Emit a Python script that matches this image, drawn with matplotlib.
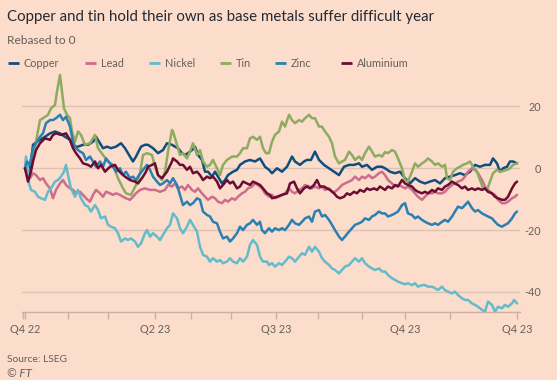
import matplotlib
matplotlib.use("Agg")
import matplotlib.pyplot as plt
from matplotlib.lines import Line2D

# ---------------- data (x = trading-day index from start, y = % change rebased to 0)
tin_x = [0,5,10,15,18,23,26,30,32,35,37,39,42,45,47,50,53,56,60,65,70,73,78,83,88,93,98,101,106,111,
         115,118,122,127,130,133,137,140,143,147,148,152,155,158,162,165,168,172,175,178,182,185,188,192,195,198,202,207,212,215,218,222,225,228,232,235,
         238,241,244,247,250,254,257,260,264,267,270,274,277,280,284,287,290,294,297,300,304,307,310,314,317,320,324,327,330,334,337,340,344,347,350,354,357,
         360,363,367,370,373,377,380,383,387,390,393,397,400,403,407,410,413,417,420,422,425,428,432,435,438,442,445,448,452,455,458,462,465,468,472,475,478,482,485,488,492]
tin_y = [0,2.0,7.0,15.6,16.2,17.3,19.4,20.5,24.8,30.2,24.8,19.4,17.3,16.2,11.9,8.6,11.9,10.8,7.6,8.1,10.8,6.5,4.3,2.2,1.1,-3.2,-6.5,-8.1,-8.6,-5.4,
         -1.6,4.3,4.9,4.3,0.5,-2.2,-3.8,-1.1,5.4,12.4,11.9,7.6,4.3,4.9,3.2,5.4,8.1,4.3,5.9,2.2,0.5,1.1,2.7,0,-2.2,1.1,2.7,3.8,3.8,4.9,6.5,6.5,9.7,10.2,9.2,10.2,
         6.5,4.9,4.9,8.6,10.8,11.9,15.1,13.5,17.3,15.6,14.6,15.6,15.1,16.2,17.3,16.2,16.2,13.5,13.5,11.9,10.2,8.1,3.8,1.6,2.2,2.7,5.4,4.3,2.7,3.8,2.7,4.9,7.0,5.4,3.8,4.3,3.8,
         5.2,4.9,5.9,5.4,3.2,0,-3.8,-4.3,-1.1,1.6,0.5,1.6,2.2,3.2,2.2,1.1,1.6,0.5,1.1,-3.2,-3.8,-1.1,0,0.5,1.1,1.6,2.2,0.5,-1.1,-3.8,-6.5,-7.0,-4.3,-1.6,-0.5,-1.1,-0.9,-0.5,0,1.1,1.6]

copper_x = [0,3,6,8,12,15,20,25,30,35,40,45,48,53,58,63,68,71,75,78,82,86,91,96,100,105,108,111,
            116,120,123,128,133,138,142,147,150,153,157,160,163,167,170,173,177,180,183,187,190,193,197,200,203,208,212,215,220,225,230,235,
            240,244,247,252,257,262,267,270,275,279,282,286,290,294,299,304,309,314,319,324,329,334,337,342,347,352,357,
            360,365,370,375,380,385,390,395,400,405,410,415,420,425,430,435,440,445,450,455,460,465,468,472,475,478,482,485,488,492]
copper_y = [0,-2.2,2.0,7.6,8.6,9.2,10.2,11.3,11.9,11.3,10.2,9.2,7.0,7.0,7.6,7.6,8.6,10.2,8.1,6.5,7.0,6.5,7.0,8.1,6.5,3.8,2.2,3.8,
            7.0,7.6,7.6,6.5,4.9,5.9,8.1,7.6,7.0,6.5,4.9,4.3,4.9,5.9,7.0,4.3,2.7,-1.1,-1.1,-2.7,-1.1,-2.7,-4.9,-3.8,-2.2,-1.1,-0.5,1.1,2.2,2.7,2.2,3.2,
            0.5,-0.5,-1.6,0,-1.1,0.5,3.8,2.2,1.1,2.2,2.7,2.7,5.4,2.7,1.1,0,-1.1,-2.2,0.5,1.1,1.1,1.6,0.5,1.1,-0.5,0.5,0.5,
            0,-1.1,-1.6,-1.1,-3.2,-4.9,-3.2,-4.3,-4.9,-4.3,-3.8,-4.9,-3.2,-2.7,-2.2,-1.6,-2.2,-1.1,1.1,0.5,1.1,1.1,3.2,1.6,-1.1,0,0.5,2.2,2.2,1.6]

alu_x = [0,3,6,8,11,15,20,25,28,31,36,41,45,48,51,55,58,63,66,70,73,76,80,85,90,93,96,100,105,110,113,
         118,121,123,127,130,133,137,142,147,148,152,155,158,162,165,168,172,175,178,182,185,188,192,195,198,202,205,208,212,215,218,222,225,228,232,235,
         238,242,245,247,252,257,262,265,269,272,275,279,282,285,289,292,295,299,302,305,309,312,315,319,322,325,329,332,335,339,342,345,349,352,355,
         360,363,367,370,373,377,380,383,387,390,393,397,400,403,407,410,413,417,420,423,427,430,433,437,440,443,447,450,453,457,460,463,467,470,473,477,480,483,487,490,492]
alu_y = [0,-4.3,-1.0,2.2,5.9,8.1,9.7,9.2,10.8,11.3,10.8,11.3,9.2,6.5,4.9,3.2,1.6,1.1,0.5,2.2,0,1.1,-1.1,0.5,1.1,-0.5,-1.6,-2.7,-3.8,-4.3,-4.9,
         -2.7,-1.1,0.5,1.1,1.6,-2.2,-3.2,-1.1,2.2,3.2,2.2,1.1,1.1,-0.5,0.5,-1.6,-1.1,-2.2,-3.8,-2.7,-3.2,-2.7,-4.3,-6.5,-5.4,-3.8,-4.9,-4.3,-6.5,-5.9,-4.3,-4.9,-5.4,-4.3,-4.9,-5.4,
         -6.5,-8.1,-8.6,-9.7,-9.2,-8.6,-8.1,-4.9,-4.3,-6.5,-8.1,-6.5,-5.9,-6.5,-5.4,-3.8,-5.9,-5.9,-6.5,-7.0,-8.1,-9.2,-9.7,-9.2,-8.1,-8.6,-7.6,-8.1,-7.0,-7.6,-6.5,-7.0,-6.5,-7.0,-5.9,
         -7.0,-5.9,-6.5,-5.4,-5.9,-3.8,-4.9,-5.4,-5.9,-7.0,-7.6,-8.1,-7.6,-8.1,-7.0,-7.6,-6.5,-7.0,-5.9,-5.4,-4.3,-4.9,-5.4,-6.5,-5.9,-7.0,-6.5,-7.0,-6.5,-7.0,-6.5,-7.6,-8.1,-9.2,-9.7,-10.2,-10.2,-9.2,-6.5,-4.9,-4.3]

lead_x = [0,1,5,8,11,15,18,21,25,28,31,35,38,41,45,48,51,55,58,61,65,68,71,75,78,81,85,88,91,95,98,101,105,108,111,
          115,120,125,130,135,140,143,147,150,153,157,160,163,167,170,173,177,180,183,187,190,193,197,200,203,207,210,213,217,220,223,227,230,233,
          237,240,244,247,250,254,257,260,264,267,270,274,277,280,284,287,290,294,297,300,304,307,310,314,317,320,324,327,330,334,337,340,344,347,350,354,357,
          360,363,367,370,373,377,380,383,387,390,393,397,400,403,407,410,413,417,420,423,427,430,433,437,440,443,447,450,453,457,460,463,467,470,473,477,480,483,487,490,492]
lead_y = [0,0,-3.2,-1.6,-2.2,-3.8,-3.2,-4.9,-6.5,-9.7,-7.0,-4.9,-3.8,-5.4,-6.5,-7.0,-8.1,-7.6,-8.6,-9.7,-10.8,-8.6,-7.0,-8.1,-9.2,-7.6,-8.1,-8.6,-8.1,-8.6,-9.2,-9.7,-10.2,-9.2,-8.1,
          -7.0,-6.5,-7.0,-7.0,-7.6,-7.0,-5.4,-5.9,-4.9,-6.5,-5.9,-7.0,-5.4,-7.0,-7.6,-6.5,-8.1,-9.2,-10.2,-9.2,-9.7,-10.8,-11.3,-10.2,-10.8,-9.7,-10.2,-9.2,-8.1,-7.6,-6.5,-5.9,-4.9,-5.4,
          -6.5,-8.1,-9.2,-8.6,-9.7,-9.2,-8.6,-8.1,-6.5,-7.6,-8.1,-7.0,-6.5,-5.4,-5.9,-6.5,-5.9,-6.5,-5.9,-7.0,-6.5,-7.6,-7.6,-6.5,-5.4,-4.9,-4.3,-3.8,-2.7,-3.8,-2.7,-3.2,-2.2,-3.2,-2.7,-1.6,-1.1,
          -2.2,-3.8,-4.9,-5.9,-5.4,-5.9,-6.5,-5.9,-7.0,-8.1,-9.2,-10.2,-9.2,-8.1,-8.1,-7.6,-8.1,-8.1,-7.6,-6.5,-5.4,-4.9,-4.3,-3.8,-2.7,-1.1,0,-0.5,-1.6,-3.8,-5.9,-7.0,-8.1,-8.6,-10.2,-11.3,-11.3,-10.8,-9.7,-9.2,-8.6]

zinc_x = [0,2,5,8,11,15,18,21,25,28,31,35,38,41,45,48,51,55,58,61,65,68,71,75,78,81,85,88,91,95,98,101,105,108,111,114,
          118,122,125,128,132,135,138,142,145,148,152,155,158,162,165,168,172,175,178,182,185,188,192,195,198,202,205,208,212,215,218,222,225,228,232,235,
          237,240,244,247,250,254,257,260,264,267,270,274,277,280,284,287,290,294,297,300,304,307,310,314,317,320,324,327,330,334,337,340,344,347,350,354,357,
          360,363,367,370,373,377,380,383,387,390,393,397,400,403,407,410,413,417,420,423,427,430,433,437,440,443,447,450,453,457,460,463,467,470,473,477,480,483,487,490,492]
zinc_y = [0,2.2,1.1,6.5,8.1,10.2,11.3,14.6,15.6,15.6,16.2,17.3,15.6,16.7,13.5,8.6,6.5,5.4,4.9,2.7,3.8,2.2,0.5,2.2,0.5,3.2,1.6,0.5,-1.1,0,-2.2,-1.1,-3.2,-2.7,-3.8,-2.2,
          -0.5,1.1,-0.5,-2.7,-4.3,-5.4,-4.9,-3.8,-4.9,-3.2,-5.4,-8.6,-11.9,-10.8,-11.9,-11.3,-9.7,-10.2,-14.0,-15.1,-15.6,-17.3,-17.8,-20.5,-22.7,-22.1,-23.7,-22.7,-21.0,-18.9,-20.0,-18.3,-17.8,-16.7,-18.3,-17.3,
          -20.0,-21.0,-19.4,-20.5,-19.4,-20.0,-19.4,-20.0,-18.3,-16.7,-17.8,-18.3,-17.3,-16.2,-15.6,-17.3,-14.0,-13.5,-15.6,-15.1,-16.7,-18.3,-20.0,-22.1,-23.2,-22.1,-20.5,-19.4,-18.3,-17.8,-17.3,-16.2,-16.7,-15.6,-15.1,-14.0,-14.6,
          -14.6,-15.6,-15.1,-14.6,-14.0,-11.9,-11.3,-14.6,-15.1,-16.2,-15.6,-16.7,-17.3,-17.8,-18.3,-17.8,-18.3,-17.3,-16.7,-17.3,-15.6,-14.0,-12.4,-12.9,-11.9,-10.8,-12.9,-14.0,-13.5,-14.6,-15.1,-15.6,-16.2,-17.3,-18.3,-18.9,-18.3,-17.8,-16.2,-14.6,-14.0]

nickel_x = [0,1,3,4,6,10,13,16,20,23,26,30,33,36,39,41,43,46,50,53,56,60,63,66,70,73,76,80,83,86,90,93,96,100,103,106,110,113,
            116,120,122,125,128,132,135,138,142,145,148,152,155,158,162,165,168,172,175,178,182,185,188,192,195,198,202,205,208,212,215,218,222,225,228,232,235,
            238,242,244,247,250,254,257,260,264,267,270,274,277,280,284,287,290,294,297,300,304,307,310,314,317,320,324,327,330,334,337,340,344,347,350,354,357,
            360,363,367,370,373,377,380,383,387,390,393,397,400,403,407,410,413,417,420,423,427,430,433,437,440,443,447,450,453,457,460,463,467,470,473,477,480,483,487,489,492]
nickel_y = [0,3.8,0,-4.9,-7.0,-7.6,-9.2,-9.7,-10.2,-7.6,-6.5,-4.3,-3.8,-2.7,-1.1,1.1,-2.2,-6.5,-9.2,-7.0,-9.7,-11.9,-12.4,-14.0,-11.9,-13.5,-16.2,-15.6,-18.3,-18.9,-19.4,-21.0,-23.7,-22.7,-23.2,-22.7,-23.7,-25.4,
            -24.3,-21.0,-20.0,-22.1,-21.0,-22.1,-23.2,-21.6,-19.4,-18.3,-14.6,-16.2,-19.4,-21.0,-18.9,-16.7,-18.3,-20.5,-25.4,-28.0,-28.6,-30.2,-29.1,-30.2,-29.7,-30.7,-30.2,-29.1,-30.2,-30.7,-29.1,-30.2,-28.6,-24.8,-23.2,-24.8,-28.6,
            -30.2,-30.2,-31.3,-30.7,-31.8,-30.7,-31.3,-30.2,-28.6,-29.1,-30.2,-28.6,-27.5,-28.0,-25.4,-27.0,-25.4,-27.0,-29.1,-30.2,-31.3,-32.4,-32.9,-34.0,-32.9,-31.8,-31.3,-30.2,-29.1,-30.2,-29.1,-30.7,-31.8,-32.4,-32.9,-32.4,-33.4,
            -33.4,-34.5,-35.6,-36.1,-36.7,-37.2,-37.5,-37.2,-37.8,-37.2,-38.3,-37.8,-37.8,-38.3,-38.3,-38.8,-39.4,-38.3,-39.4,-39.9,-40.5,-39.9,-41.0,-42.1,-42.6,-42.6,-43.7,-44.2,-44.8,-45.8,-46.4,-43.1,-44.2,-46.4,-44.8,-45.3,-44.2,-44.8,-43.7,-42.6,-43.7]

series_names = ["Copper", "Lead", "Nickel", "Tin", "Zinc", "Aluminium"]
series_x = [copper_x, lead_x, nickel_x, tin_x, zinc_x, alu_x]
series_y = [copper_y, lead_y, nickel_y, tin_y, zinc_y, alu_y]
colors = ["#0f4f80", "#cc6d8c", "#62bccb", "#8cac5f", "#2a7fb3", "#6b0c32"]

tick_pos = [0, 43, 83, 130, 166, 206, 251, 293, 337, 380, 425, 492]
tick_labels = ["Q4 22", "", "", "Q2 23", "", "", "Q3 23", "", "", "Q4 23", "", "Q4 23"]
y_ticks = [20, 0, -20, -40]

title = "Copper and tin hold their own as base metals suffer difficult year"
subtitle = "Rebased to 0"
source = "Source: LSEG"
credit = "© FT"

# ---------------- styling
BG = "#fcdccb"
GRID = "#dcc3b3"
AXC = "#c9b2a4"
TXT = "#262a33"
GREY = "#66605c"
FONT = ["Lato", "DejaVu Sans"]
plt.rcParams["font.family"] = FONT

W, H, DPI = 557, 380, 100
fig = plt.figure(figsize=(W / DPI, H / DPI), dpi=DPI, facecolor=BG)

def fx(px):
    return px / W

def fy(py):
    return 1 - py / H

ax = fig.add_axes([fx(22), fy(311.7), fx(520) - fx(22), fy(70) - fy(311.7)])
ax.set_facecolor(BG)
ax.set_xlim(-3, 495)
ax.set_ylim(-46.4, 31.8)

for yv in y_ticks:
    ax.axhline(yv, color=GRID, lw=1.0, zorder=0)

for x, y, c in zip(series_x, series_y, colors):
    ax.plot(x, y, color=c, lw=1.8, solid_joinstyle="round", solid_capstyle="round", zorder=3)

for s in ["top", "left", "right"]:
    ax.spines[s].set_visible(False)
ax.spines["bottom"].set_color(AXC)
ax.spines["bottom"].set_linewidth(1.0)

ax.set_xticks(tick_pos)
ax.set_xticklabels(tick_labels)
ax.set_xticks([-2], minor=True)
ax.tick_params(axis="x", which="both", length=5, width=1.0, color=AXC, pad=3.5,
               labelsize=7.8, labelcolor=GREY)

ax.yaxis.tick_right()
ax.set_yticks(y_ticks)
ax.set_yticklabels([str(v) for v in y_ticks])
ax.tick_params(axis="y", length=0, pad=15, labelsize=7.8, labelcolor=GREY)
for lab in ax.get_yticklabels():
    lab.set_horizontalalignment("right")

# ---------------- texts, fitted to reference widths
renderer = fig.canvas.get_renderer()

def fit(txt, target_w):
    bb = txt.get_window_extent(renderer=renderer)
    txt.set_fontsize(txt.get_fontsize() * target_w / bb.width)

t = fig.text(fx(7), fy(20.7), title, fontsize=11, color=TXT, va="baseline")
fit(t, 425)
t = fig.text(fx(7), fy(43.5), subtitle, fontsize=8, color=GREY, va="baseline")
fit(t, 69)

leg_text_x = [24, 101, 165, 236, 291, 357]
for name, c, px in zip(series_names, colors, leg_text_x):
    fig.add_artist(Line2D([fx(px - 16), fx(px - 5)], [fy(62.7), fy(62.7)], color=c, lw=2.0,
                          solid_capstyle="butt", transform=fig.transFigure))
    fig.text(fx(px), fy(66.7), name, fontsize=7.8, color=GREY, va="baseline")
t = fig.text(fx(7), fy(362.5), source, fontsize=8, color=GREY, va="baseline")
fit(t, 61)
t = fig.text(fx(7), fy(376.7), credit, fontsize=8, color=GREY, va="baseline", style="italic")
fit(t, 25)

fig.savefig("out.png", dpi=DPI, facecolor=BG)
